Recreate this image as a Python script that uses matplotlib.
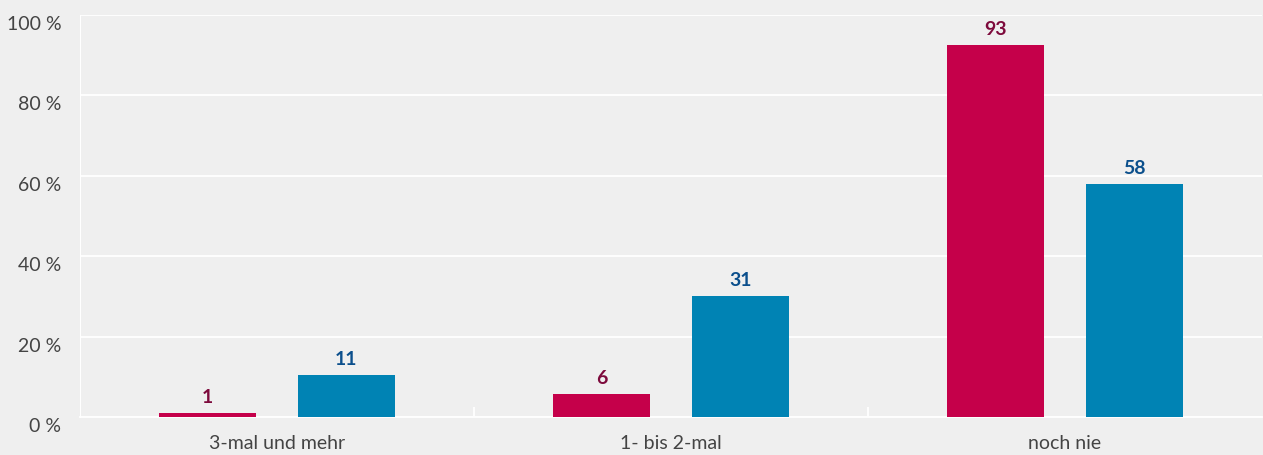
import numpy as np
import matplotlib.pyplot as plt
from matplotlib.transforms import ScaledTranslation

plt.rcParams['font.family'] = ['Lato', 'DejaVu Sans']

# Data (bar heights as drawn, labels as printed)
categories = ['3-mal und mehr', '1- bis 2-mal', 'noch nie']
red_values = [1.0, 5.7, 92.5]
red_labels = ['1', '6', '93']
blue_values = [10.4, 30.1, 58.0]
blue_labels = ['11', '31', '58']
yticks = [0, 20, 40, 60, 80, 100]

bg = '#efefef'
red = '#c5004a'
blue = '#0083b4'
red_text = '#7d0a3c'
blue_text = '#0b4f8c'

fig = plt.figure(figsize=(12.63, 4.55), dpi=100, facecolor=bg)
ax = fig.add_axes([80 / 1263, 1 - 417 / 455, 1182 / 1263, 402 / 455])
ax.set_facecolor(bg)

x = np.arange(len(categories))
w = 0.246
off = 0.176
bars_r = ax.bar(x - off, red_values, width=w, color=red, zorder=3)
bars_b = ax.bar(x + off, blue_values, width=w, color=blue, zorder=3)

for b, v, lab in zip(bars_r, red_values, red_labels):
    ax.annotate(lab, (b.get_x() + b.get_width() / 2, v), xytext=(0, 5),
                textcoords='offset points', ha='center', va='bottom',
                color=red_text, fontsize=14, fontweight='bold')
for b, v, lab in zip(bars_b, blue_values, blue_labels):
    ax.annotate(lab, (b.get_x() + b.get_width() / 2, v), xytext=(0, 5),
                textcoords='offset points', ha='center', va='bottom',
                color=blue_text, fontsize=14, fontweight='bold')

ax.set_xlim(-0.5, 2.5)
ax.set_ylim(0, 100)
ax.set_yticks(yticks)
ax.set_yticklabels([f'{t} %' for t in yticks], fontsize=14, color='#444444')
ax.grid(axis='y', color='white', linewidth=1.3, zorder=0)
ax.tick_params(axis='y', length=0, pad=13.5)
shift = ScaledTranslation(0, -8 / 100, fig.dpi_scale_trans)
for lbl in ax.get_yticklabels():
    lbl.set_transform(lbl.get_transform() + shift)

# category labels and separator ticks
ax.set_xticks(x)
ax.set_xticklabels(categories, fontsize=14, color='#444444')
ax.tick_params(axis='x', length=0, pad=13)
ax.set_xticks([0.5, 1.5], minor=True)
ax.tick_params(axis='x', which='minor', direction='in', length=7, color='white', width=1.3)

for s in ['top', 'right']:
    ax.spines[s].set_visible(False)
ax.spines['left'].set_color('white')
ax.spines['bottom'].set_color('white')
ax.spines['bottom'].set_linewidth(1.3)

fig.savefig('out.png', dpi=100, facecolor=bg)
